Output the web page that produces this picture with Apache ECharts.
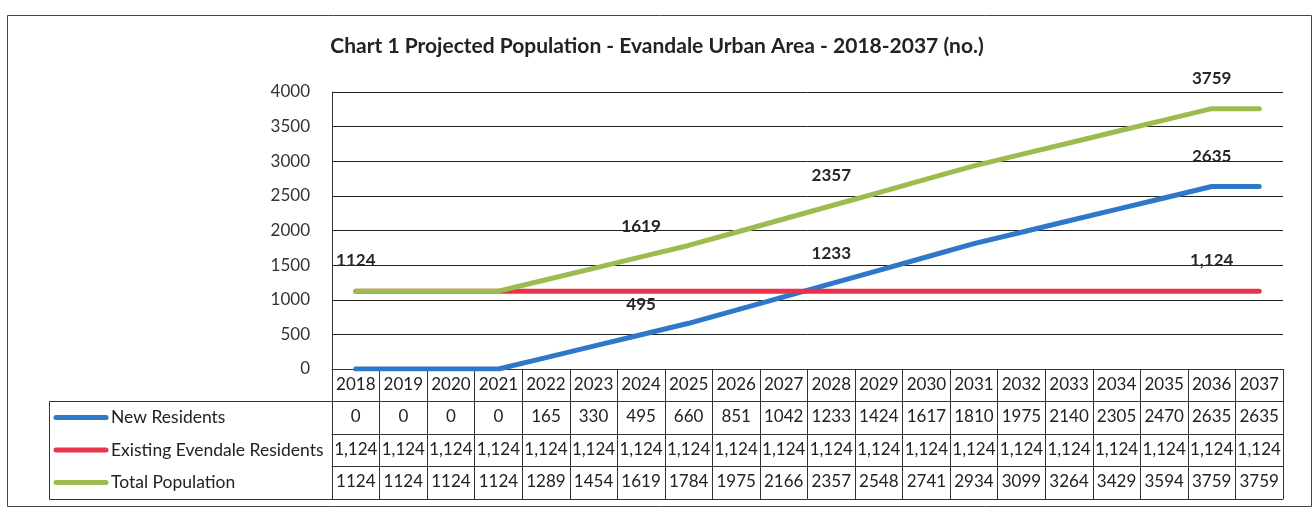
<!DOCTYPE html>
<html>
<head>
<meta charset="utf-8">
<script src="https://cdn.jsdelivr.net/npm/echarts@6/dist/echarts.min.js"></script>
<style>html,body{margin:0;padding:0;background:#fff}#c{width:1314px;height:508px}</style>
</head>
<body>
<div id="c"></div>
<script>
const titleText = 'Chart 1 Projected Population - Evandale Urban Area - 2018-2037 (no.)';
const years = ['2018','2019','2020','2021','2022','2023','2024','2025','2026','2027','2028','2029','2030','2031','2032','2033','2034','2035','2036','2037'];
const seriesNames = ['New Residents', 'Existing Evendale Residents', 'Total Population'];
const newResidents = [0,0,0,0,165,330,495,660,851,1042,1233,1424,1617,1810,1975,2140,2305,2470,2635,2635];
const existingResidents = [1124,1124,1124,1124,1124,1124,1124,1124,1124,1124,1124,1124,1124,1124,1124,1124,1124,1124,1124,1124];
const totalPopulation = [1124,1124,1124,1124,1289,1454,1619,1784,1975,2166,2357,2548,2741,2934,3099,3264,3429,3594,3759,3759];
const newLabelIdx = [6, 10, 18];
const existingLabelIdx = [18];
const totalLabelIdx = [0, 6, 10, 18];
const yMin = 0, yMax = 4000, yInterval = 500;

const colors = ['#2f77c8', '#e8334a', '#9dbb4f'];
const FONT = 'Lato';
const fmtComma = v => Number(v).toLocaleString('en-US');

function withLabels(values, idxs, fmt) {
  return values.map((v, i) => idxs.indexOf(i) >= 0
    ? { value: v, label: { show: true, formatter: () => fmt(v) } }
    : { value: v, label: { show: false } });
}

function rowAxis(offset, tickLen, formatter, showLine) {
  return {
    type: 'category', gridIndex: 0, position: 'bottom', offset: offset,
    data: years, boundaryGap: true,
    axisLine: { show: showLine !== false, lineStyle: { color: '#333', width: 1 } },
    axisTick: { show: tickLen > 0, length: tickLen, interval: 0, lineStyle: { color: '#333', width: 1 } },
    axisLabel: { show: !!formatter, interval: 0, margin: 7, fontFamily: FONT, fontSize: 17, color: '#222', formatter: formatter || undefined },
    splitLine: { show: false }
  };
}

const chart = echarts.init(document.getElementById('c'), null, { renderer: 'canvas' });
const rowTops = [401, 434, 466];
const rowH = [33, 32, 33];
const tableLeft = 49, catLeft = 332;

const graphics = [
  { type: 'rect', silent: true, shape: { x: 7.5, y: 15.5, width: 1304, height: 491 }, style: { fill: 'none', stroke: '#444', lineWidth: 1 } },
  { type: 'rect', silent: true, shape: { x: tableLeft + 0.5, y: rowTops[0] + 0.5, width: catLeft - tableLeft, height: 98 }, style: { fill: 'none', stroke: '#333', lineWidth: 1 } }
];
for (let r = 0; r < 3; r++) {
  const cy = rowTops[r] + rowH[r] / 2;
  graphics.push({ type: 'line', silent: true, shape: { x1: 56, y1: cy, x2: 106, y2: cy }, style: { stroke: colors[r], lineWidth: 5, lineCap: 'round' } });
  graphics.push({ type: 'text', silent: true, x: 111, y: cy, style: { text: seriesNames[r], fontFamily: FONT, fontSize: 17.5, fill: '#222', verticalAlign: 'middle', align: 'left' } });
}

const labelStyle = { position: 'top', distance: 22, fontFamily: FONT, fontSize: 17, fontWeight: 'bold', color: '#262626' };

function lineSeries(i, data) {
  return {
    name: seriesNames[i], type: 'line', xAxisIndex: 0, data: data,
    symbol: 'circle', symbolSize: 0, showSymbol: true,
    lineStyle: { color: colors[i], width: 5, cap: 'round' },
    itemStyle: { color: colors[i] },
    label: labelStyle, z: 2 + i
  };
}

chart.setOption({
  animation: false,
  backgroundColor: '#fff',
  title: {
    text: titleText, left: 'center', top: 31,
    textStyle: { fontFamily: FONT, fontSize: 21, fontWeight: 'bold', color: '#222' }
  },
  grid: { left: catLeft, right: 1314 - 1283, top: 92, bottom: 508 - 369, containLabel: false },
  xAxis: [
    rowAxis(0, 32, v => v),
    rowAxis(32, 33, (v, i) => String(newResidents[i])),
    rowAxis(65, 32, (v, i) => fmtComma(existingResidents[i])),
    rowAxis(97, 33, (v, i) => String(totalPopulation[i])),
    rowAxis(130, 0, null)
  ],
  yAxis: {
    type: 'value', min: yMin, max: yMax, interval: yInterval,
    axisLine: { show: true, lineStyle: { color: '#333', width: 1 } },
    axisTick: { show: false },
    axisLabel: { fontFamily: FONT, fontSize: 17, color: '#333', margin: 22, formatter: v => String(v) },
    splitLine: { show: true, lineStyle: { color: '#222', width: 1 } }
  },
  series: [
    lineSeries(0, withLabels(newResidents, newLabelIdx, String)),
    lineSeries(1, withLabels(existingResidents, existingLabelIdx, fmtComma)),
    lineSeries(2, withLabels(totalPopulation, totalLabelIdx, String))
  ],
  graphic: graphics
});
</script>
</body>
</html>
